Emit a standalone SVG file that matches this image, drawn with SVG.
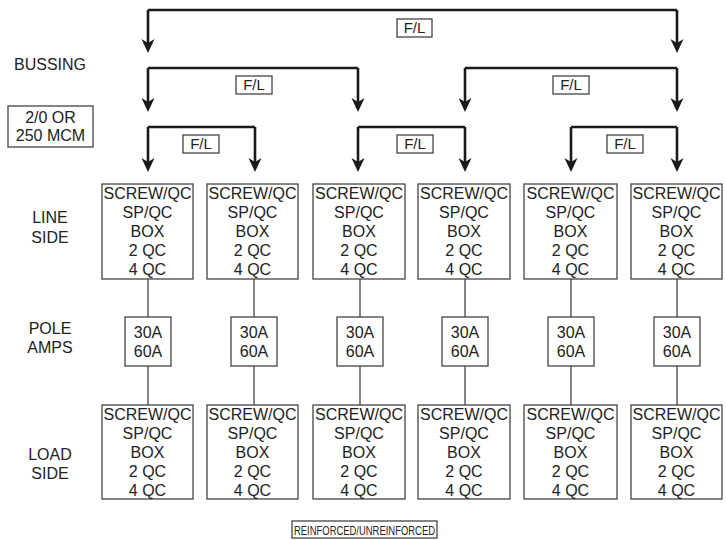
<svg xmlns="http://www.w3.org/2000/svg" width="726" height="540" viewBox="0 0 726 540">
<defs>
<style>
text{font-family:"Liberation Sans",Arial,sans-serif;fill:#222;text-anchor:middle}
.t16{font-size:16px}
.t15{font-size:15px}
.box{fill:#fff;stroke:#444;stroke-width:1.3}
.bus{fill:none;stroke:#1a1a1a;stroke-width:2.6}
.arr{fill:none;stroke:#1a1a1a;stroke-width:2.6;marker-end:url(#ah)}
.wire{fill:none;stroke:#444;stroke-width:1.3}
</style>
<marker id="ah" markerUnits="userSpaceOnUse" markerWidth="15" markerHeight="14" refX="9" refY="7" orient="auto">
<path d="M0,0.5 L14,7 L0,13.5 L4,7 Z" fill="#1a1a1a"/>
</marker>
</defs>
<rect width="726" height="540" fill="#fff"/>

<g id="connectors">
<path class="bus" d="M148,10 H677"/>
<path class="arr" d="M148,10 V48"/>
<path class="arr" d="M677,10 V48"/>
<path class="bus" d="M148,68 H358"/>
<path class="arr" d="M148,68 V107"/>
<path class="arr" d="M358,68 V107"/>
<path class="bus" d="M465,68 H677"/>
<path class="arr" d="M465,68 V107"/>
<path class="arr" d="M677,68 V107"/>
<path class="bus" d="M148,127 H255"/>
<path class="arr" d="M148,127 V167"/>
<path class="arr" d="M255,127 V167"/>
<path class="bus" d="M358,127 H465"/>
<path class="arr" d="M358,127 V167"/>
<path class="arr" d="M465,127 V167"/>
<path class="bus" d="M571,127 H677"/>
<path class="arr" d="M571,127 V167"/>
<path class="arr" d="M677,127 V167"/>
<path class="wire" d="M148,279 V317 M148,366 V405"/>
<path class="wire" d="M254,279 V317 M254,366 V405"/>
<path class="wire" d="M360,279 V317 M360,366 V405"/>
<path class="wire" d="M465,279 V317 M465,366 V405"/>
<path class="wire" d="M571,279 V317 M571,366 V405"/>
<path class="wire" d="M677,279 V317 M677,366 V405"/>
</g>

<g id="fl-labels">
<g id="fl-top"><rect class="box" x="397" y="19" width="35" height="18"/><text class="t15" x="414.5" y="33">F/L</text></g>
<g id="fl-2a"><rect class="box" x="236" y="76" width="36" height="18"/><text class="t15" x="254" y="90">F/L</text></g>
<g id="fl-2b"><rect class="box" x="553" y="76" width="36" height="18"/><text class="t15" x="571" y="90">F/L</text></g>
<g id="fl-3a"><rect class="box" x="183" y="135" width="36" height="18"/><text class="t15" x="201" y="149">F/L</text></g>
<g id="fl-3b"><rect class="box" x="397" y="135" width="36" height="18"/><text class="t15" x="415" y="149">F/L</text></g>
<g id="fl-3c"><rect class="box" x="607" y="135" width="36" height="18"/><text class="t15" x="625" y="149">F/L</text></g>
</g>

<g id="row-labels">
<g id="lbl-bussing"><text class="t16" x="50" y="70">BUSSING</text></g>
<g id="lbl-cable"><rect class="box" x="8" y="106" width="85" height="41"/><text class="t16" x="50.5" y="123">2/0 OR</text><text class="t16" x="50.5" y="141">250 MCM</text></g>
<g id="lbl-line"><text class="t16" x="50" y="223">LINE</text><text class="t16" x="50" y="243">SIDE</text></g>
<g id="lbl-pole"><text class="t16" x="50" y="334">POLE</text><text class="t16" x="50" y="353">AMPS</text></g>
<g id="lbl-load"><text class="t16" x="50" y="460">LOAD</text><text class="t16" x="50" y="479">SIDE</text></g>
</g>

<g id="line-1"><rect class="box" x="102" y="184" width="91" height="95"/><text class="t16" x="147.5" y="199">SCREW/QC</text><text class="t16" x="147.5" y="218">SP/QC</text><text class="t16" x="147.5" y="237">BOX</text><text class="t16" x="147.5" y="256">2 QC</text><text class="t16" x="147.5" y="275">4 QC</text></g>
<g id="line-2"><rect class="box" x="207" y="184" width="91" height="95"/><text class="t16" x="252.5" y="199">SCREW/QC</text><text class="t16" x="252.5" y="218">SP/QC</text><text class="t16" x="252.5" y="237">BOX</text><text class="t16" x="252.5" y="256">2 QC</text><text class="t16" x="252.5" y="275">4 QC</text></g>
<g id="line-3"><rect class="box" x="313" y="184" width="92" height="95"/><text class="t16" x="359" y="199">SCREW/QC</text><text class="t16" x="359" y="218">SP/QC</text><text class="t16" x="359" y="237">BOX</text><text class="t16" x="359" y="256">2 QC</text><text class="t16" x="359" y="275">4 QC</text></g>
<g id="line-4"><rect class="box" x="418" y="184" width="92" height="95"/><text class="t16" x="464" y="199">SCREW/QC</text><text class="t16" x="464" y="218">SP/QC</text><text class="t16" x="464" y="237">BOX</text><text class="t16" x="464" y="256">2 QC</text><text class="t16" x="464" y="275">4 QC</text></g>
<g id="line-5"><rect class="box" x="524" y="184" width="93" height="95"/><text class="t16" x="570.5" y="199">SCREW/QC</text><text class="t16" x="570.5" y="218">SP/QC</text><text class="t16" x="570.5" y="237">BOX</text><text class="t16" x="570.5" y="256">2 QC</text><text class="t16" x="570.5" y="275">4 QC</text></g>
<g id="line-6"><rect class="box" x="631" y="184" width="91" height="95"/><text class="t16" x="676.5" y="199">SCREW/QC</text><text class="t16" x="676.5" y="218">SP/QC</text><text class="t16" x="676.5" y="237">BOX</text><text class="t16" x="676.5" y="256">2 QC</text><text class="t16" x="676.5" y="275">4 QC</text></g>

<g id="pole-1"><rect class="box" x="125" y="317" width="46" height="49"/><text class="t16" x="148" y="338">30A</text><text class="t16" x="148" y="357">60A</text></g>
<g id="pole-2"><rect class="box" x="231" y="317" width="46" height="49"/><text class="t16" x="254" y="338">30A</text><text class="t16" x="254" y="357">60A</text></g>
<g id="pole-3"><rect class="box" x="337" y="317" width="46" height="49"/><text class="t16" x="360" y="338">30A</text><text class="t16" x="360" y="357">60A</text></g>
<g id="pole-4"><rect class="box" x="442" y="317" width="46" height="49"/><text class="t16" x="465" y="338">30A</text><text class="t16" x="465" y="357">60A</text></g>
<g id="pole-5"><rect class="box" x="548" y="317" width="46" height="49"/><text class="t16" x="571" y="338">30A</text><text class="t16" x="571" y="357">60A</text></g>
<g id="pole-6"><rect class="box" x="654" y="317" width="46" height="49"/><text class="t16" x="677" y="338">30A</text><text class="t16" x="677" y="357">60A</text></g>

<g id="load-1"><rect class="box" x="102" y="405" width="91" height="94"/><text class="t16" x="147.5" y="420">SCREW/QC</text><text class="t16" x="147.5" y="439">SP/QC</text><text class="t16" x="147.5" y="458">BOX</text><text class="t16" x="147.5" y="477">2 QC</text><text class="t16" x="147.5" y="496">4 QC</text></g>
<g id="load-2"><rect class="box" x="207" y="405" width="91" height="94"/><text class="t16" x="252.5" y="420">SCREW/QC</text><text class="t16" x="252.5" y="439">SP/QC</text><text class="t16" x="252.5" y="458">BOX</text><text class="t16" x="252.5" y="477">2 QC</text><text class="t16" x="252.5" y="496">4 QC</text></g>
<g id="load-3"><rect class="box" x="313" y="405" width="92" height="94"/><text class="t16" x="359" y="420">SCREW/QC</text><text class="t16" x="359" y="439">SP/QC</text><text class="t16" x="359" y="458">BOX</text><text class="t16" x="359" y="477">2 QC</text><text class="t16" x="359" y="496">4 QC</text></g>
<g id="load-4"><rect class="box" x="418" y="405" width="92" height="94"/><text class="t16" x="464" y="420">SCREW/QC</text><text class="t16" x="464" y="439">SP/QC</text><text class="t16" x="464" y="458">BOX</text><text class="t16" x="464" y="477">2 QC</text><text class="t16" x="464" y="496">4 QC</text></g>
<g id="load-5"><rect class="box" x="524" y="405" width="93" height="94"/><text class="t16" x="570.5" y="420">SCREW/QC</text><text class="t16" x="570.5" y="439">SP/QC</text><text class="t16" x="570.5" y="458">BOX</text><text class="t16" x="570.5" y="477">2 QC</text><text class="t16" x="570.5" y="496">4 QC</text></g>
<g id="load-6"><rect class="box" x="631" y="405" width="91" height="94"/><text class="t16" x="676.5" y="420">SCREW/QC</text><text class="t16" x="676.5" y="439">SP/QC</text><text class="t16" x="676.5" y="458">BOX</text><text class="t16" x="676.5" y="477">2 QC</text><text class="t16" x="676.5" y="496">4 QC</text></g>

<g id="reinforced"><rect class="box" x="292" y="521" width="145" height="17"/><text x="364.5" y="534.5" style="font-size:13.5px" textLength="141" lengthAdjust="spacingAndGlyphs">REINFORCED/UNREINFORCED</text></g>
</svg>
